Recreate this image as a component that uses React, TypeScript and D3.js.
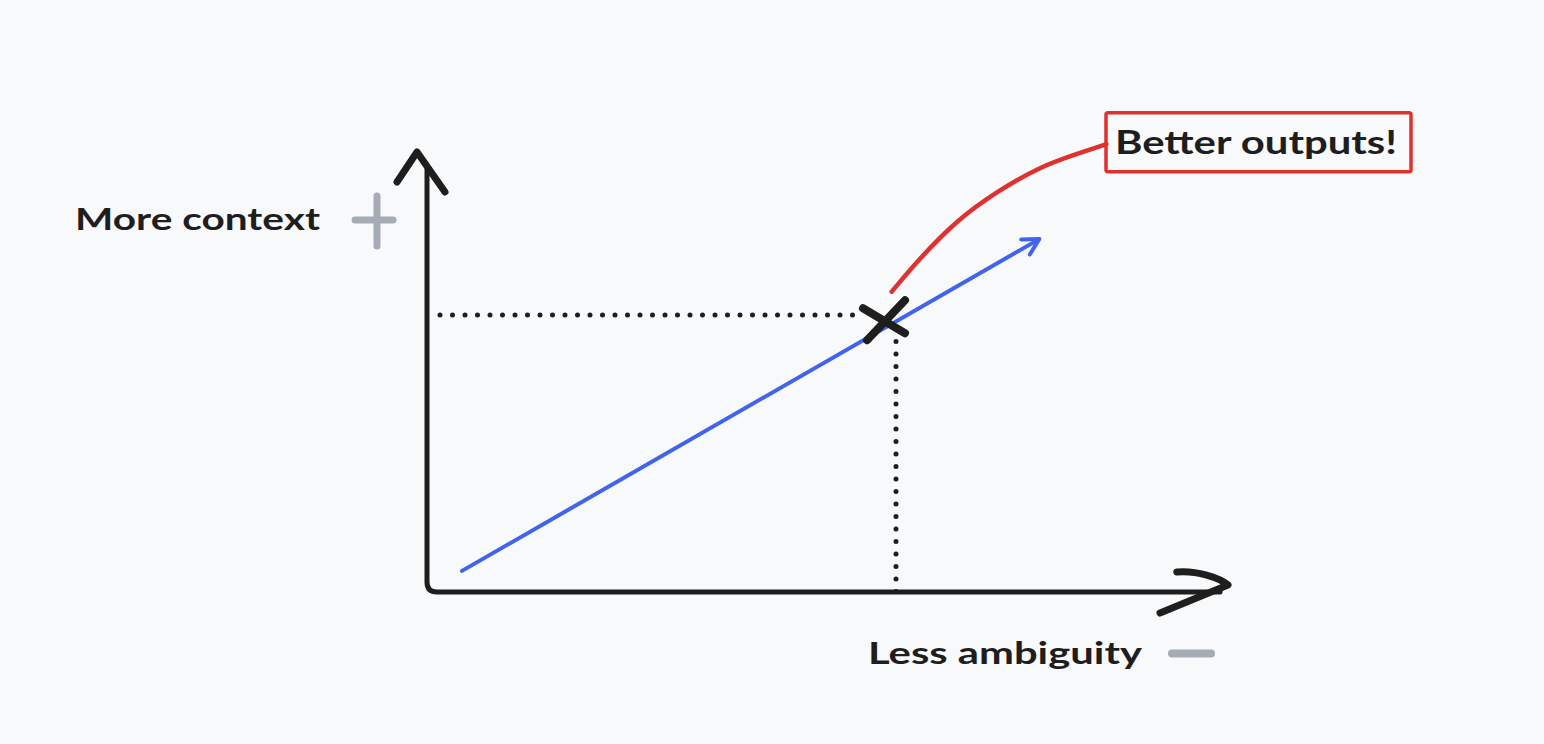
import * as d3 from 'd3';
import React from 'react';

// concept diagram: axis units run 0..100 on both axes
const axisLabels = ['Less ambiguity', 'More context'];
const axisSigns = ['−', '+'];
const calloutText = 'Better outputs!';

const trendStart: [number, number] = [4.25, 4.8];
const trendEnd: [number, number] = [76.4, 80.2];
const sweetSpot: [number, number] = [57.25, 62.0];
const guideH: [number, number][] = [[1.5, 62.95], [54.25, 62.95]];
const guideV: [number, number][] = [[58.5, 59.8], [58.5, 0]];
const calloutCurve: [number, number][] = [
  [57.96, 68.25],
  [61.5, 75.9],
  [66.1, 84.5],
  [71.1, 91.0],
  [76.5, 96.7],
  [81.5, 99.8],
  [84.8, 101.8],
];

const width = 1544;
const height = 744;
const ink = '#1e1e1e';
const blue = '#4263eb';
const red = '#e03131';
const gray = '#a5acb6';
const font = 'Lato, "Noto Sans", sans-serif';

const x = d3.scaleLinear().domain([0, 100]).range([428, 1228]);
const y = d3.scaleLinear().domain([0, 100]).range([592, 152]);

const App: React.FC = () => {
  const line = d3
    .line<[number, number]>()
    .x((d) => x(d[0]))
    .y((d) => y(d[1]));
  const curve = d3
    .line<[number, number]>()
    .x((d) => x(d[0]))
    .y((d) => y(d[1]))
    .curve(d3.curveBasis);

  const x0 = x(0) - 1;
  const y0 = y(0);
  const axisPath = `M${x0},${y(96)} L${x0},${y0 - 10} Q${x0},${y0} ${x0 + 10},${y0} L${x(99)},${y0}`;
  const yHead = `M${x0 - 30},${y(100) + 30} L${x0 - 10},${y(100)} L${x0 + 18},${y(100) + 40}`;
  const xHead = `M${x(93.6)},${y0 - 20} C${x(96)},${y0 - 22} ${x(99)},${y0 - 14} ${x(100)},${y0 - 7} L${x(91.5)},${y0 + 21}`;

  // blue arrow head
  const tx = x(trendEnd[0]);
  const ty = y(trendEnd[1]);
  const ang = Math.atan2(ty - y(trendStart[1]), tx - x(trendStart[0]));
  const head = (a: number) => [tx - 18 * Math.cos(ang + a), ty - 18 * Math.sin(ang + a)];
  const h1 = head(0.5);
  const h2 = head(-0.5);

  const mx = x(sweetSpot[0]);
  const my = y(sweetSpot[1]);

  const boxX = x(84.75);
  const boxY = y(108.9);
  const boxW = 305;
  const boxH = 59;

  return (
    <svg
      width={width}
      height={height}
      style={{ position: 'fixed', left: 0, top: 0, display: 'block', background: '#f8f9fb' }}
    >
      <rect width={width} height={height} fill="#f8f9fb" />

      {/* dotted guides */}
      <path d={line(guideH) || ''} stroke={ink} strokeWidth={5} strokeDasharray="0 12.5" strokeLinecap="round" fill="none" />
      <path d={line(guideV) || ''} stroke={ink} strokeWidth={5} strokeDasharray="0 12.5" strokeLinecap="round" fill="none" />

      {/* axes */}
      <path d={axisPath} stroke={ink} strokeWidth={5} fill="none" strokeLinecap="round" strokeLinejoin="round" />
      <path d={yHead} stroke={ink} strokeWidth={7} fill="none" strokeLinecap="round" strokeLinejoin="round" />
      <path d={xHead} stroke={ink} strokeWidth={7} fill="none" strokeLinecap="round" strokeLinejoin="round" />

      {/* trend line */}
      <path d={line([trendStart, trendEnd]) || ''} stroke={blue} strokeWidth={4} fill="none" strokeLinecap="round" />
      <path
        d={`M${h1[0]},${h1[1]} L${tx},${ty} L${h2[0]},${h2[1]}`}
        stroke={blue}
        strokeWidth={4}
        fill="none"
        strokeLinecap="round"
        strokeLinejoin="round"
      />

      {/* callout */}
      <path d={curve(calloutCurve) || ''} stroke={red} strokeWidth={4.5} fill="none" strokeLinecap="round" />
      <rect x={boxX} y={boxY} width={boxW} height={boxH} fill="none" stroke={red} strokeWidth={3.5} rx={2} />
      <text
        x={boxX + 9}
        y={boxY + 41}
        fontFamily={font}
        fontWeight={700}
        fontSize={33}
        fill={ink}
        textLength={282}
        lengthAdjust="spacingAndGlyphs"
      >
        {calloutText}
      </text>

      {/* marker */}
      <path
        d={`M${mx - 19},${my + 21} L${mx + 19},${my - 19} M${mx - 23},${my - 11} L${mx + 19},${my + 14}`}
        stroke={ink}
        strokeWidth={8}
        strokeLinecap="round"
      />

      {/* labels */}
      <text x={75} y={230} fontFamily={font} fontWeight={700} fontSize={31} fill={ink} textLength={245} lengthAdjust="spacingAndGlyphs">
        {axisLabels[1]}
      </text>
      <path d="M355,220 L393,220 M377,196 L377,246" stroke={gray} strokeWidth={7} strokeLinecap="round" />
      <title>{axisSigns[1]}</title>
      <text x={868} y={664} fontFamily={font} fontWeight={700} fontSize={31} fill={ink} textLength={274} lengthAdjust="spacingAndGlyphs">
        {axisLabels[0]}
      </text>
      <path d="M1172,653.5 L1211,653.5" stroke={gray} strokeWidth={8} strokeLinecap="round" />
    </svg>
  );
};

export default App;
